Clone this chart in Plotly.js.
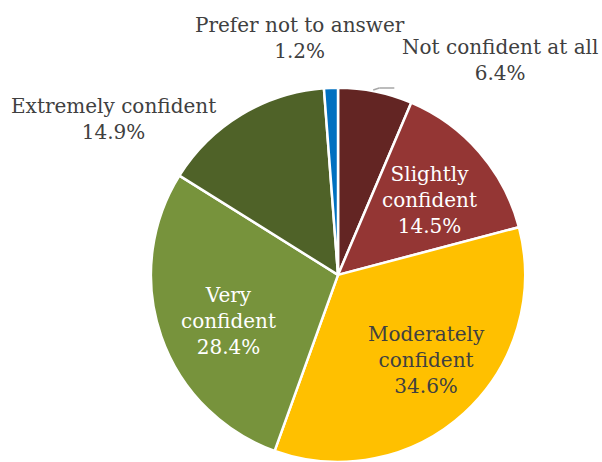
<!DOCTYPE html>
<html>
<head>
<meta charset="utf-8">
<script src="https://cdn.plot.ly/plotly-3.0.1.min.js"></script>
<style>html,body{margin:0;padding:0;background:#fff;}#chart{width:602px;height:462px;}</style>
</head>
<body>
<div id="chart"></div>
<script>
// Data
const categories = ["Not confident at all", "Slightly confident", "Moderately confident", "Very confident", "Extremely confident", "Prefer not to answer"];
const values = [6.4, 14.5, 34.6, 28.4, 14.9, 1.2];
const labelLines = [["Not confident at all"], ["Slightly", "confident"], ["Moderately", "confident"], ["Very", "confident"], ["Extremely confident"], ["Prefer not to answer"]];
const colors = ["#632523", "#943634", "#FFC000", "#77933C", "#4F6228", "#0070C0"];
const textColors = ["#404040", "#FFFFFF", "#404040", "#FFFFFF", "#404040", "#404040"];
// label anchor positions (paper coords)
const labelX = [0.831, 0.714, 0.709, 0.379, 0.189, 0.498];
const labelY = [0.870, 0.567, 0.221, 0.305, 0.742, 0.918];

const annotations = categories.map((c, i) => ({
  xref: 'paper', yref: 'paper', x: labelX[i], y: labelY[i],
  xanchor: 'center', yanchor: 'middle', showarrow: false, align: 'center',
  text: labelLines[i].join('<br>') + '<br>' + values[i].toFixed(1) + '%',
  font: {family: 'DejaVu Serif', size: 20, color: textColors[i]}
}));

const data = [{
  type: 'pie',
  labels: categories,
  values: values,
  sort: false,
  direction: 'clockwise',
  rotation: 0,
  textinfo: 'none',
  marker: {colors: colors, line: {color: '#FFFFFF', width: 2.5}},
  domain: {x: [0.248, 0.875], y: [0.0, 0.81]},
  showlegend: false
}];

const layout = {
  width: 602, height: 462,
  margin: {l: 0, r: 0, t: 0, b: 0},
  paper_bgcolor: '#FFFFFF',
  showlegend: false,
  annotations: annotations,
  shapes: [{type: 'line', xref: 'paper', yref: 'paper', x0: 0.620, y0: 1 - 90/462, x1: 0.630, y1: 1 - 88/462, line: {color: '#A6A6A6', width: 1.5}},
           {type: 'line', xref: 'paper', yref: 'paper', x0: 0.630, y0: 1 - 88/462, x1: 0.655, y1: 1 - 88/462, line: {color: '#A6A6A6', width: 1.5}}]
};

Plotly.newPlot('chart', data, layout, {displayModeBar: false, staticPlot: true});
</script>
</body>
</html>
